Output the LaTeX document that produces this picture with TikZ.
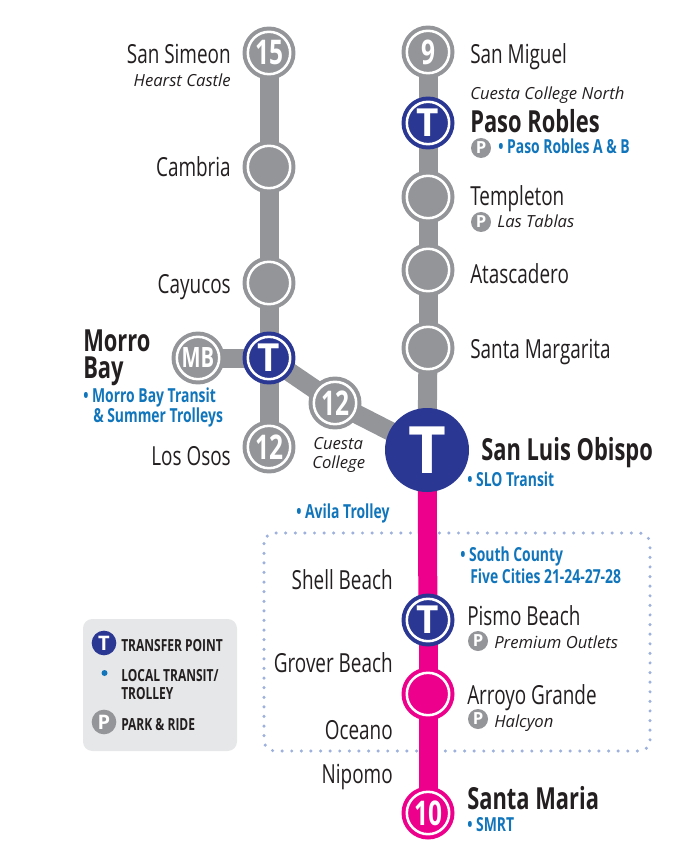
\documentclass[tikz,border=0pt]{standalone}
\usepackage{fontspec}
\setmainfont[FakeStretch=0.72]{Open Sans}
\newfontfamily\widefont{Open Sans}
\usetikzlibrary{backgrounds}
\definecolor{linegray}{HTML}{939598}
\definecolor{tblue}{HTML}{2A3793}
\definecolor{linepink}{HTML}{EC008C}
\definecolor{textblue}{HTML}{1175BB}
\definecolor{textdark}{HTML}{231F20}
\definecolor{boxdots}{HTML}{9DB1DC}
\definecolor{legendgray}{HTML}{E6E7E8}
\tikzset{
  stopbase/.style={circle,inner sep=0pt,minimum size=31.8pt,line width=3pt,double=white,double distance=1.9pt,text=white,font=\fontsize{25.5}{25.5}\selectfont\bfseries},
  stopgray/.style={stopbase,draw=linegray,fill=linegray},
  stoppink/.style={stopbase,draw=linepink,fill=linepink},
  stopt/.style={stopbase,draw=tblue,fill=tblue,font=\widefont\fontsize{29}{29}\selectfont\bfseries},
  route/.style={line width=14.25pt},
  place/.style={text=textdark,inner sep=0pt,yshift=-0.75pt,font=\fontsize{19.7}{21}\selectfont},
  placer/.style={place,anchor=base east},
  placel/.style={place,anchor=base west},
  major/.style={placel,yshift=-0.75pt,font=\fontsize{22.8}{20.25}\selectfont\bfseries},
  note/.style={text=textdark,inner sep=0pt,anchor=base west,yshift=-0.75pt,font=\widefont\fontsize{12.5}{14}\selectfont\itshape},
  local/.style={text=textblue,inner sep=0pt,anchor=base west,yshift=-0.5pt,font=\fontsize{14.5}{16}\selectfont\bfseries},
  parkbadge/.style={circle,fill=linegray,inner sep=0pt,minimum size=15pt,text=white,font=\widefont\fontsize{12.5}{12.5}\selectfont\bfseries},
  legendtext/.style={text=textdark,inner sep=0pt,anchor=base west,yshift=-0.75pt,font=\fontsize{12.5}{13}\selectfont\bfseries},
}
\begin{document}
\begin{tikzpicture}[x=0.75pt,y=-0.75pt]
  \useasboundingbox (0,0) rectangle (673,848);
  \node[stopgray] at (269,53) (ssimeon) {15};
  \node[stopgray] at (269,167) (cambria) {};
  \node[stopgray] at (269,283) (cayucos) {};
  \node[stopt] at (269,358) (morro) {T};
  \node[stopgray,font=\fontsize{21}{21}\selectfont\bfseries] at (198,358) (mb) {MB};
  \node[stopgray] at (269,447) (osos) {12};
  \node[stopgray] at (335,403) (cuesta) {12};
  \node[stopgray] at (428,52) (miguel) {9};
  \node[stopt] at (428,123) (paso) {T};
  \node[stopgray] at (428,197) (templeton) {};
  \node[stopgray] at (428,270) (atascadero) {};
  \node[stopgray] at (428,348) (margarita) {};
  \node[circle,fill=tblue,inner sep=0pt,text=white,font=\widefont\fontsize{49}{49}\selectfont\bfseries,minimum size=63pt] at (427,450) (slo) {T};
  \node[stopt] at (428,620) (pismo) {T};
  \node[stoppink] at (428,694) (arroyo) {};
  \node[stoppink] at (428,813) (smaria) {10};
  \begin{scope}[on background layer]
    \draw[boxdots,line width=2.6pt,line cap=round,dash pattern=on 0pt off 7.2pt,rounded corners=8pt] (264,533) rectangle (650,751);
    \fill[legendgray,rounded corners=7pt] (83,619) rectangle (237,751);
    \draw[route,linegray] (ssimeon.center) to (cambria.center);
    \draw[route,linegray] (cambria.center) to (cayucos.center);
    \draw[route,linegray] (cayucos.center) to (morro.center);
    \draw[route,linegray] (morro.center) to (osos.center);
    \draw[route,linegray] (mb.center) to (morro.center);
    \draw[route,linegray] (morro.center) to (cuesta.center);
    \draw[route,linegray] (cuesta.center) to (slo.center);
    \draw[route,linegray] (miguel.center) to (paso.center);
    \draw[route,linegray] (paso.center) to (templeton.center);
    \draw[route,linegray] (templeton.center) to (atascadero.center);
    \draw[route,linegray] (atascadero.center) to (margarita.center);
    \draw[route,linegray] (margarita.center) to (slo.center);
    \draw[route,linepink] (slo.center) to (pismo.center);
    \draw[route,linepink] (pismo.center) to (arroyo.center);
    \draw[route,linepink] (arroyo.center) to (smaria.center);
  \end{scope}
  \node[placer] at (231,63) (lsimeon) {San Simeon};
  \node[note,anchor=base east] at (231,86) (lhearst) {Hearst Castle};
  \node[placer] at (231,176) (lcambria) {Cambria};
  \node[placer] at (231,292) (lcayucos) {Cayucos};
  \node[major,align=left] at (83,376) (lmorro) {Morro\\Bay};
  \node[local] at (83,402) (lmbt) {• Morro Bay Transit};
  \node[local] at (93,422) (lsummer) {\& Summer Trolleys};
  \node[placer] at (231,464) (losos) {Los Osos};
  \node[note] at (313,448) (lcuesta) {Cuesta};
  \node[note] at (312,467) (lcollege) {College};
  \node[placel] at (470,63) (lmiguel) {San Miguel};
  \node[note] at (470,99) (lnorth) {Cuesta College North};
  \node[major] at (470,131) (lpaso) {Paso Robles};
  \node[parkbadge] at (481,148) (ppaso) {P};
  \node[local] at (498,153) (lpasoab) {• Paso Robles A \& B};
  \node[placel] at (470,205) (ltempleton) {Templeton};
  \node[parkbadge] at (481,222) (ptablas) {P};
  \node[note] at (497,227) (ltablas) {Las Tablas};
  \node[placel] at (470,282) (latascadero) {Atascadero};
  \node[placel] at (470,357) (lmargarita) {Santa Margarita};
  \node[major] at (481,458) (lslo) {San Luis Obispo};
  \node[local] at (467,486) (lslotransit) {• SLO Transit};
  \node[local] at (296,518) (lavila) {• Avila Trolley};
  \node[local] at (460,561) (lsouth) {• South County};
  \node[local] at (470,583) (lfive) {Five Cities 21-24-27-28};
  \node[placer] at (393,588) (lshell) {Shell Beach};
  \node[placer] at (393,671) (lgrover) {Grover Beach};
  \node[placer] at (393,738) (loceano) {Oceano};
  \node[placer] at (393,782) (lnipomo) {Nipomo};
  \node[placel] at (467,624) (lpismo) {Pismo Beach};
  \node[parkbadge] at (478,641) (ppremium) {P};
  \node[note] at (494,647) (lpremium) {Premium Outlets};
  \node[placel] at (467,703) (larroyo) {Arroyo Grande};
  \node[parkbadge] at (478,719) (phalcyon) {P};
  \node[note] at (494,726) (lhalcyon) {Halcyon};
  \node[major] at (467,807) (lsmaria) {Santa Maria};
  \node[local] at (467,831) (lsmrt) {• SMRT};
  \node[circle,fill=tblue,inner sep=0pt,minimum size=18.5pt,text=white,font=\widefont\fontsize{15}{15}\selectfont\bfseries] at (104,643) (keyt) {T};
  \node[circle,fill=textblue,inner sep=0pt,minimum size=4.5pt] at (104.5,673) (keydot) {};
  \node[parkbadge,minimum size=18.5pt,font=\widefont\fontsize{15}{15}\selectfont\bfseries] at (104,722) (keyp) {P};
  \node[legendtext] at (121,650) (ltransfer) {TRANSFER POINT};
  \node[legendtext] at (121,680) (llocal) {LOCAL TRANSIT/};
  \node[legendtext] at (121,698) (ltrolley) {TROLLEY};
  \node[legendtext] at (121,729) (lpark) {PARK \& RIDE};
\end{tikzpicture}
\end{document}
